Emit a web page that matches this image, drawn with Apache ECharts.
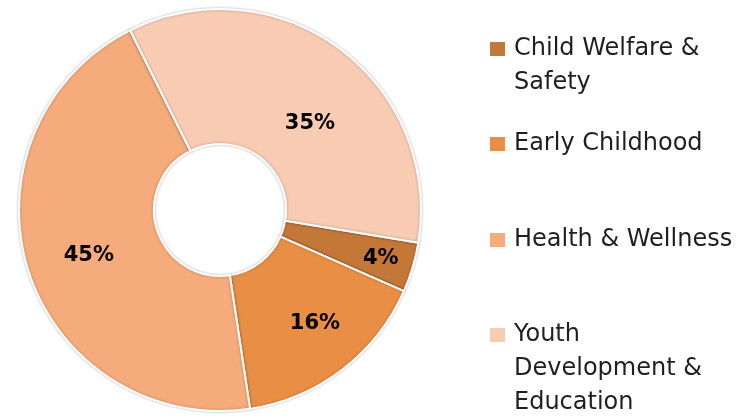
<!DOCTYPE html>
<html>
<head>
<meta charset="utf-8">
<script src="https://cdn.jsdelivr.net/npm/echarts@6/dist/echarts.min.js"></script>
<style>
  html, body { margin: 0; padding: 0; background: #fff; }
  #chart { width: 746px; height: 417px; }
</style>
</head>
<body>
<div id="chart"></div>
<script>
// Share of funding by focus area
const categories = ['Child Welfare & Safety', 'Early Childhood', 'Health & Wellness', 'Youth Development & Education'];
const shares = [4, 16, 45, 35];
// Legend text, wrapped as it is set in the side column
const legendLines = [
  ['Child Welfare &', 'Safety'],
  ['Early Childhood'],
  ['Health & Wellness'],
  ['Youth', 'Development &', 'Education']
];

const colors = ['#C47838', '#E88F45', '#F5AB7B', '#F8CBB3'];
// Nudges for the percentage labels inside the ring
const labelOffsets = [[30, 10], [12, 5], [-1, 4], [9, 23]];
const legendIconY = [49, 144, 240, 335];
const LINE_H = 34;

const chart = echarts.init(document.getElementById('chart'), null, { renderer: 'canvas' });

const pieData = categories.map((name, i) => ({
  name: name,
  value: shares[i],
  itemStyle: { color: colors[i] },
  label: { offset: labelOffsets[i] }
}));

// One legend block per entry so the swatch sits beside the first text line
const legends = categories.map((name, i) => {
  const lines = legendLines[i];
  const pad = new Array(lines.length - 1).fill('');
  const text = pad.concat(lines).join('\n');
  const total = pad.length + lines.length;
  return {
    data: [name],
    orient: 'vertical',
    left: 488,
    top: legendIconY[i] - (total * LINE_H) / 2,
    padding: 0,
    itemWidth: 17,
    itemHeight: 16,
    icon: 'rect',
    selectedMode: false,
    formatter: () => text,
    textStyle: {
      fontFamily: 'DejaVu Sans',
      fontSize: 24,
      color: '#1F1F1F',
      lineHeight: LINE_H,
      padding: [0, 0, 0, 3]
    }
  };
});

chart.setOption({
  animation: false,
  color: colors,
  legend: legends,
  series: [{
    type: 'pie',
    center: [220, 210],
    radius: [66, 201],
    startAngle: -9.4,
    clockwise: true,
    avoidLabelOverlap: false,
    emphasis: { disabled: true },
    itemStyle: {
      borderColor: '#ffffff',
      borderWidth: 2,
      shadowBlur: 3,
      shadowColor: 'rgba(0,0,0,0.25)'
    },
    label: {
      show: true,
      position: 'inside',
      formatter: p => p.value + '%',
      fontFamily: 'DejaVu Sans',
      fontWeight: 'bold',
      fontSize: 21,
      color: '#000000'
    },
    labelLine: { show: false },
    data: pieData
  }]
});
</script>
</body>
</html>
